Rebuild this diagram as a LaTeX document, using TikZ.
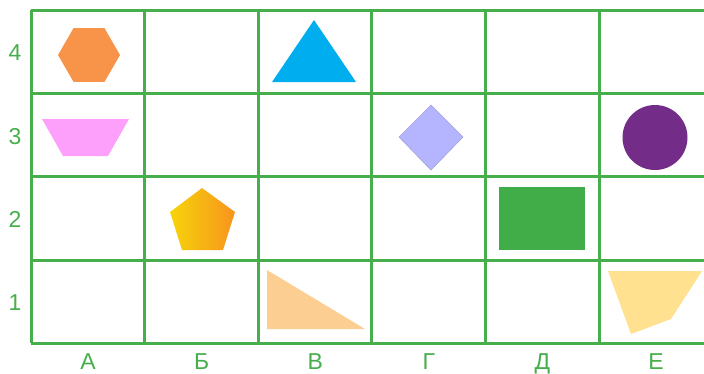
\documentclass[tikz,border=0pt]{standalone}
\usepackage{fontspec}
\setmainfont{Liberation Sans}
\usepackage{xcolor}
\usetikzlibrary{shapes.geometric}
\definecolor{gridgreen}{HTML}{46AE4B}
\definecolor{hexorange}{HTML}{F7944A}
\definecolor{trappink}{HTML}{FDA0FC}
\definecolor{triblue}{HTML}{00AEEF}
\definecolor{diamlilac}{HTML}{B4B4FF}
\definecolor{circpurple}{HTML}{732C87}
\definecolor{pentyellow}{HTML}{F6D40B}
\definecolor{pentorange}{HTML}{F7941D}
\definecolor{rectgreen}{HTML}{41AD49}
\definecolor{rtripeach}{HTML}{FDCE91}
\definecolor{quadyellow}{HTML}{FFE190}

\begin{document}
\begin{tikzpicture}[
  x=1pt,y=-1pt,
  gridln/.style={draw=gridgreen,line width=3pt},
  lbl/.style={anchor=base,inner sep=0pt,text=gridgreen,
    font=\fontsize{23}{23}\selectfont},
]
\useasboundingbox (0,0) rectangle (704,373);
% grid
\foreach \i in {0,...,5}
  \draw[gridln] ({31+113.6*\i},10) -- ({31+113.6*\i},343);
\foreach \y in {10,93.3,176.7,260,343}
  \draw[gridln] (31,\y) -- (704,\y);
% labels
\foreach \n/\y in {4/51.5,3/135,2/218.5,1/301.5}
  \node[lbl] (row\n) at (15,\y+9) {\n};
\foreach \c [count=\i from 0] in {А,Б,В,Г,Д,Е}
  \node[lbl] (col\i) at ({88+113.6*\i},369) {\c};
% shapes
\node[regular polygon,regular polygon sides=6,minimum size=62pt,
  inner sep=0pt,fill=hexorange] (hexA) at (89,55) {};
\fill[trappink] (42,119) -- (129,119) -- (108,156) -- (63,156) -- cycle;
\fill[triblue] (314,20) -- (356,82) -- (272,82) -- cycle;
\fill[diamlilac,draw=diamlilac!70!gray,line width=0.6pt]
  (431,105) -- (463,137) -- (431,170) -- (399,137) -- cycle;
\node[circle,fill=circpurple,minimum size=65pt,inner sep=0pt] (circE) at (655,137.5) {};
\shade[left color=pentyellow,right color=pentorange]
  (202,188) -- (235,212) -- (223,250) -- (182,250) -- (170,212) -- cycle;
\fill[rectgreen] (499,187) rectangle (585,250);
\fill[rtripeach] (267,270) -- (365,329) -- (267,329) -- cycle;
\fill[quadyellow] (608,271) -- (702,271) -- (671,319) -- (631,334) -- cycle;
\end{tikzpicture}
\end{document}
